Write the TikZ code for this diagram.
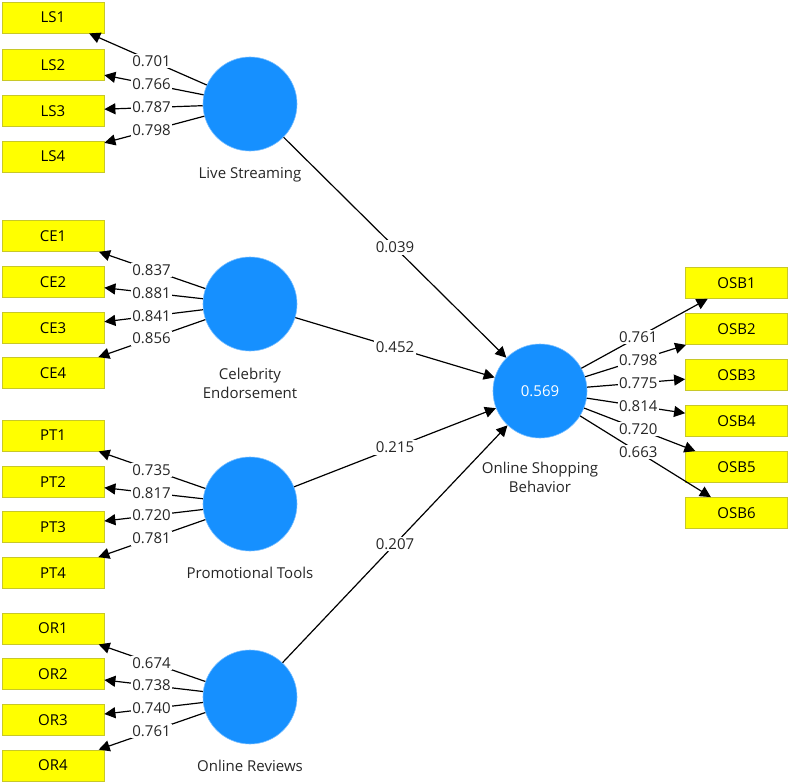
\documentclass[tikz,border=0pt]{standalone}
\usepackage{fontspec}
\setmainfont{Open Sans}
\usetikzlibrary{arrows.meta,calc}
\definecolor{lvblue}{RGB}{22,144,255}
\definecolor{lvedge}{RGB}{120,190,255}
\definecolor{boxyellow}{RGB}{255,255,0}
\definecolor{boxedge}{RGB}{200,200,40}
\tikzset{
  ind/.style={draw=boxedge, fill=boxyellow, line width=0.8pt, minimum width=102pt, minimum height=31pt, inner sep=0pt, font=\fontsize{15}{17}\selectfont},
  lv/.style={circle, draw=lvedge, fill=lvblue, line width=0.6pt, minimum size=94pt, inner sep=0pt, text=white, font=\fontsize{15}{17}\selectfont},
  lvlab/.style={align=center, font=\fontsize{15}{19.5}\selectfont, text=black!85},
  conn/.style={draw=black, line width=1.2pt, -{Triangle[length=11pt,width=11pt]}},
  val/.style={fill=white, inner sep=1.5pt, font=\fontsize{15}{17}\selectfont, text=black!85}
}
\begin{document}
\begin{tikzpicture}[x=1pt,y=-1pt]
\useasboundingbox (0,0) rectangle (790,784);
% latent variables
\node[lv] (LS) at (250,104) {};
\node[lv] (CE) at (250,304) {};
\node[lv] (PT) at (250,504) {};
\node[lv] (OR) at (250,697) {};
\node[lv] (OSB) at (540,391) {0.569};
\node[lvlab] (LSl) at (250,175) {Live Streaming};
\node[lvlab] (CEl) at (250,383.5) {Celebrity\\Endorsement};
\node[lvlab] (PTl) at (250,573) {Promotional Tools};
\node[lvlab] (ORl) at (250,766) {Online Reviews};
\node[lvlab] (OSBl) at (540,477.5) {Online Shopping\\Behavior};
% indicators
\node[ind] (LS1) at (53,17.5) {LS1};
\node[ind] (LS2) at (53,65) {LS2};
\node[ind] (LS3) at (53,111) {LS3};
\node[ind] (LS4) at (53,156.5) {LS4};
\node[ind] (CE1) at (53,236) {CE1};
\node[ind] (CE2) at (53,282) {CE2};
\node[ind] (CE3) at (53,328) {CE3};
\node[ind] (CE4) at (53,373) {CE4};
\node[ind] (PT1) at (53,435.5) {PT1};
\node[ind] (PT2) at (53,482) {PT2};
\node[ind] (PT3) at (53,527) {PT3};
\node[ind] (PT4) at (53,573) {PT4};
\node[ind] (OR1) at (53,628.5) {OR1};
\node[ind] (OR2) at (53,674) {OR2};
\node[ind] (OR3) at (53,720) {OR3};
\node[ind] (OR4) at (53,765.5) {OR4};
\node[ind] (OSB1) at (736.5,283) {OSB1};
\node[ind] (OSB2) at (736.5,329) {OSB2};
\node[ind] (OSB3) at (736.5,375) {OSB3};
\node[ind] (OSB4) at (736.5,421) {OSB4};
\node[ind] (OSB5) at (736.5,467) {OSB5};
\node[ind] (OSB6) at (736.5,513) {OSB6};
% outer loadings (reflective)
\foreach \lv/\i/\v in {LS/1/0.701,LS/2/0.766,LS/3/0.787,LS/4/0.798,
                      CE/1/0.837,CE/2/0.881,CE/3/0.841,CE/4/0.856,
                      PT/1/0.735,PT/2/0.817,PT/3/0.720,PT/4/0.781,
                      OR/1/0.674,OR/2/0.738,OR/3/0.740,OR/4/0.761}{
  \draw[conn] (\lv) -- (\lv\i);
  \node[val] at ($(\lv.center)!0.5!(\lv\i.center)$) {\v};
}
\foreach \i/\v in {1/0.761,2/0.798,3/0.775,4/0.814,5/0.720,6/0.663}{
  \draw[conn] (OSB) -- (OSB\i);
  \node[val] at ($(OSB.center)!0.5!(OSB\i.center)$) {\v};
}
% structural paths
\foreach \lv/\v in {LS/0.039,CE/0.452,PT/0.215,OR/0.207}{
  \draw[conn] (\lv) -- (OSB);
  \node[val] at ($(\lv.center)!0.5!(OSB.center)$) {\v};
}
\end{tikzpicture}
\end{document}
